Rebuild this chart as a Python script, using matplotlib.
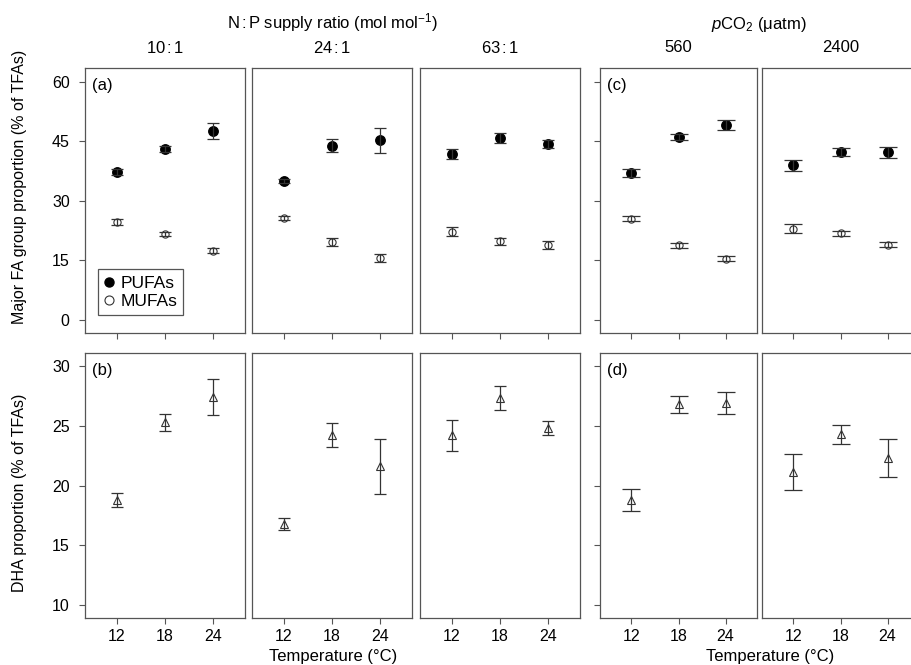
import matplotlib
matplotlib.use("Agg")
import matplotlib.pyplot as plt
from matplotlib.lines import Line2D

plt.rcParams['font.family'] = 'Liberation Sans'
plt.rcParams['mathtext.fontset'] = 'custom'
plt.rcParams['mathtext.rm'] = 'Liberation Sans'
plt.rcParams['mathtext.it'] = 'Liberation Sans:italic'

# data
temps = [12, 18, 24]
col_titles = [r'10$\,$:$\,$1', r'24$\,$:$\,$1', r'63$\,$:$\,$1', '560', '2400']
top_tags = ['(a)', None, None, '(c)', None]
bot_tags = ['(b)', None, None, '(d)', None]

pufa_mean = [[37.2, 43.0, 47.5], [35.0, 43.9, 45.2], [41.8, 45.8, 44.4], [37.0, 46.0, 49.1], [38.9, 42.3, 42.2]]
pufa_err = [[0.8, 0.7, 2.0], [0.6, 1.6, 3.1], [1.3, 1.2, 1.0], [1.0, 0.8, 1.3], [1.5, 1.0, 1.4]]
mufa_mean = [[24.6, 21.6, 17.4], [25.7, 19.6, 15.5], [22.2, 19.7, 18.9], [25.5, 18.7, 15.4], [22.9, 21.8, 18.9]]
mufa_err = [[0.8, 0.6, 0.6], [0.5, 1.0, 1.1], [1.2, 1.0, 1.0], [0.7, 0.7, 0.7], [1.1, 0.6, 0.7]]
dha_mean = [[18.8, 25.3, 27.4], [16.8, 24.2, 21.6], [24.2, 27.3, 24.8], [18.8, 26.8, 26.9], [21.1, 24.3, 22.3]]
dha_err = [[0.6, 0.7, 1.5], [0.5, 1.0, 2.3], [1.3, 1.0, 0.6], [0.9, 0.7, 0.9], [1.5, 0.8, 1.6]]

W, H = 911, 665
fig = plt.figure(figsize=(W / 100, H / 100), dpi=100)

def px_axes(left, top, width, height):
    return fig.add_axes([left / W, 1 - (top + height) / H, width / W, height / H])

lefts = [85, 252, 420, 600, 762]
widths = [160, 160, 160, 157, 157]
caps = [4.3, 4.3, 4.3, 6.5, 6.5]
gray = '#555555'
ecol = '#333333'
fs_tick = 11.5
fs = 12

def style(ax, show_y, ylab, show_x):
    for s in ax.spines.values():
        s.set_color(gray)
        s.set_linewidth(0.9)
    ax.set_xlim(8, 28)
    ax.set_xticks(temps)
    ax.tick_params(direction='out', length=4, width=0.8, color=gray, labelsize=fs_tick)
    ax.tick_params(axis='x', labelbottom=show_x, pad=4)
    ax.tick_params(axis='y', pad=7)
    if not show_y:
        ax.tick_params(axis='y', left=False, labelleft=False)
    elif not ylab:
        ax.tick_params(axis='y', labelleft=False)

for i in range(5):
    # top row: PUFAs and MUFAs
    ax = px_axes(lefts[i], 68, widths[i], 265)
    ax.plot(temps, pufa_mean[i], 'o', color='black', ms=6.8, zorder=2)
    ax.plot(temps, mufa_mean[i], 'o', mfc='white', mec=ecol, mew=0.8, ms=5.2, zorder=2)
    ax.errorbar(temps, pufa_mean[i], yerr=pufa_err[i], fmt='none', ecolor=ecol,
                elinewidth=0.9, capsize=caps[i], capthick=0.9, zorder=3)
    ax.errorbar(temps, mufa_mean[i], yerr=mufa_err[i], fmt='none', ecolor=ecol,
                elinewidth=0.9, capsize=caps[i], capthick=0.9, zorder=3)
    ax.set_ylim(-3.4, 63.5)
    ax.set_yticks([0, 15, 30, 45, 60])
    style(ax, i in (0, 3), i == 0, False)
    if top_tags[i]:
        ax.annotate(top_tags[i], xy=(0, 1), xycoords='axes fraction', xytext=(5, -12.5),
                    textcoords='offset points', va='center', ha='left', fontsize=fs)
    if i == 0:
        handles = [Line2D([], [], ls='none', marker='o', color='black', ms=6.5),
                   Line2D([], [], ls='none', marker='o', mfc='white', mec=ecol, mew=0.8, ms=6.5)]
        leg = ax.legend(handles, ['PUFAs', 'MUFAs'], loc='lower left',
                        bbox_to_anchor=(0.081, 0.068), borderaxespad=0, fancybox=False,
                        edgecolor=gray, framealpha=1, fontsize=12.5, handlelength=0.6,
                        handletextpad=0.35, borderpad=0.35, labelspacing=0.18)
        leg.get_frame().set_linewidth(0.9)
    fig.text((lefts[i] + widths[i] / 2) / W, 1 - 48 / H, col_titles[i],
             ha='center', va='center', fontsize=fs)

    # bottom row: DHA
    ax = px_axes(lefts[i], 353, widths[i], 265)
    ax.plot(temps, dha_mean[i], '^', mfc='white', mec=ecol, mew=0.8, ms=5.8, zorder=2)
    ax.errorbar(temps, dha_mean[i], yerr=dha_err[i], fmt='none', ecolor=ecol,
                elinewidth=0.9, capsize=caps[i], capthick=0.9, zorder=3)
    ax.set_ylim(8.9, 31.1)
    ax.set_yticks([10, 15, 20, 25, 30])
    style(ax, i in (0, 3), i == 0, True)
    if bot_tags[i]:
        ax.annotate(bot_tags[i], xy=(0, 1), xycoords='axes fraction', xytext=(5, -12.5),
                    textcoords='offset points', va='center', ha='left', fontsize=fs)

fig.text(332 / W, 1 - 23 / H, r'N$\,$:$\,$P supply ratio (mol mol$^{-1}$)', ha='center', va='center', fontsize=fs)
fig.text(759 / W, 1 - 25 / H, r'$\it{p}$CO$_2$ ($\mathrm{\mu}$atm)', ha='center', va='center', fontsize=fs)
fig.text(20 / W, 1 - 187 / H, 'Major FA group proportion (% of TFAs)', rotation=90,
         ha='center', va='center', fontsize=11.5)
fig.text(20 / W, 1 - 493 / H, 'DHA proportion (% of TFAs)', rotation=90,
         ha='center', va='center', fontsize=11.5)
fig.text(333 / W, 1 - 657 / H, 'Temperature (°C)', ha='center', va='center', fontsize=fs)
fig.text(770 / W, 1 - 657 / H, 'Temperature (°C)', ha='center', va='center', fontsize=fs)

fig.savefig('out.png', dpi=100)
